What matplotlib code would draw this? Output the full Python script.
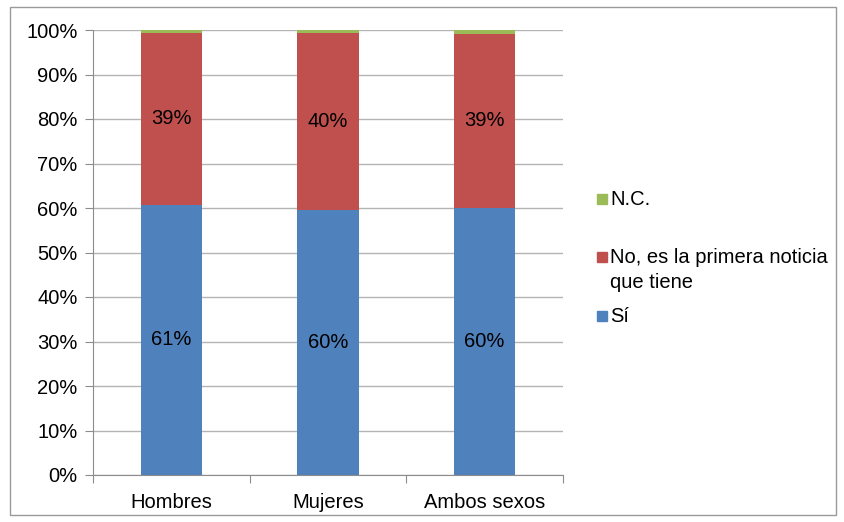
import numpy as np
import matplotlib.pyplot as plt
from matplotlib.patches import Rectangle

plt.rcParams['font.family'] = ['Liberation Sans', 'DejaVu Sans']

# Datos del grafico (porcentajes)
categorias = ['Hombres', 'Mujeres', 'Ambos sexos']
si = [60.7, 59.6, 60.1]
no_primera = [38.6, 39.7, 39.1]
nc = [0.7, 0.7, 0.8]
etiquetas_si = ['61%', '60%', '60%']
etiquetas_no = ['39%', '40%', '39%']
series = ['Sí', 'No, es la primera noticia', 'N.C.']
colores = ['#4f81bd', '#c0504d', '#9bbb59']

FS = 14.5
W, H = 844, 522

fig = plt.figure(figsize=(W / 100, H / 100), dpi=100)
ax = fig.add_axes([93 / W, 47 / H, 470 / W, 445 / H])

x = np.arange(len(categorias))
ancho = 0.39
ax.bar(x, si, ancho, color=colores[0], zorder=2)
ax.bar(x, no_primera, ancho, bottom=si, color=colores[1], zorder=2)
base = np.array(si) + np.array(no_primera)
ax.bar(x, nc, ancho, bottom=base, color=colores[2], zorder=2)

for i in range(len(categorias)):
    ax.text(x[i], si[i] / 2, etiquetas_si[i], ha='center', va='center', fontsize=FS)
    ax.text(x[i], si[i] + no_primera[i] / 2, etiquetas_no[i], ha='center', va='center', fontsize=FS)

ax.set_xlim(-0.5, len(categorias) - 0.5)
ax.set_ylim(0, 100)
ax.set_yticks(np.arange(0, 101, 10))
ax.set_yticklabels([f'{v}%' for v in range(0, 101, 10)], fontsize=FS)
ax.yaxis.grid(True, color='#b4b4b4', linewidth=1, zorder=0)
ax.set_axisbelow(True)

# ticks del eje x entre categorias
ax.set_xticks(np.arange(-0.5, len(categorias), 1))
ax.set_xticklabels([])
ax.set_xticks(x, minor=True)
ax.set_xticklabels(categorias, minor=True, fontsize=FS)
ax.tick_params(axis='x', which='minor', length=0, pad=13)
ax.tick_params(axis='x', which='major', length=6, color='#8c8c8c')
ax.tick_params(axis='y', length=6, color='#8c8c8c', pad=5)

for s in ['top', 'right']:
    ax.spines[s].set_visible(False)
ax.spines['left'].set_color('#8c8c8c')
ax.spines['bottom'].set_color('#8c8c8c')

# leyenda manual (orden: N.C., No, Si)
leyenda = [
    (colores[2], [series[2]], 205),
    (colores[1], [series[1], 'que tiene'], 263),
    (colores[0], [series[0]], 322),
]
for color, lineas, y0 in leyenda:
    fig.patches.append(Rectangle((597 / W, 1 - (y0 - 1) / H), 10 / W, 10 / H,
                                 transform=fig.transFigure, color=color))
    for k, linea in enumerate(lineas):
        fig.text(610 / W, 1 - (y0 + 25 * k) / H, linea, fontsize=FS,
                 ha='left', va='baseline')

fig.patches.append(Rectangle((10 / W, 7 / H), 826 / W, 508 / H,
                             transform=fig.transFigure, fill=False,
                             edgecolor='#9a9a9a', linewidth=1))

fig.savefig('out.png', dpi=100)
